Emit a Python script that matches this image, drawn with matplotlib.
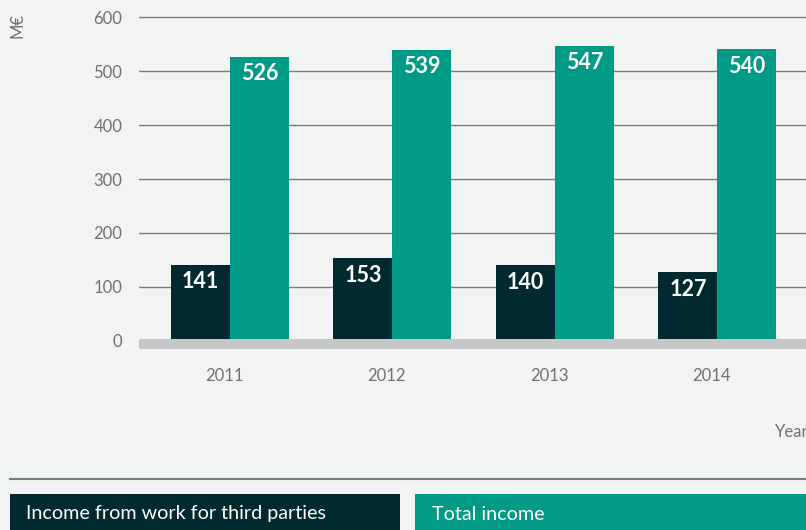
import numpy as np
import matplotlib.pyplot as plt
from matplotlib.patches import Rectangle

plt.rcParams['font.family'] = ['Lato', 'DejaVu Sans']

# Income per year, M€
years = ['2011', '2012', '2013', '2014']
third_parties = [141, 153, 140, 127]
total_income = [526, 539, 547, 540]

bg = '#f2f4f3'
dark = '#002a30'
teal = '#009a86'
grey_txt = '#707070'

fig = plt.figure(figsize=(8.06, 5.30), dpi=100, facecolor=bg)
W, H = 806, 530

# axes placed in pixel terms: left 139, right edge, top 10, bottom 352
ax = fig.add_axes([139 / W, (H - 352) / H, (W - 139) / W, 342 / H])
ax.set_facecolor(bg)

x = np.arange(len(years))
w = 0.363
ax.bar(x - w / 2, third_parties, w, color=dark, zorder=2)
ax.bar(x + w / 2, total_income, w, color=teal, zorder=2)

for xi, v in zip(x, third_parties):
    ax.text(xi - w / 2, v - 31, str(v), ha='center', va='center',
            color='white', fontsize=15.5, fontweight='bold', zorder=4)
for xi, v in zip(x, total_income):
    ax.text(xi + w / 2, v - 31, str(v), ha='center', va='center',
            color='white', fontsize=15.5, fontweight='bold', zorder=4)

# baseline band
ax.axhspan(-15.5, 3.5, color='#c6c7c9', zorder=3, lw=0)

ax.set_xlim(-0.56, 3.545)
ax.set_ylim(-20.4, 613)
ax.set_yticks([0, 100, 200, 300, 400, 500, 600])
ax.yaxis.grid(True, color='#7a7a7a', lw=1, zorder=1)
ax.set_axisbelow(True)
ax.tick_params(axis='y', length=0, pad=12, labelsize=12, labelcolor=grey_txt)
ax.set_xticks(x - 0.035)
ax.set_xticklabels(years)
ax.tick_params(axis='x', length=0, pad=11.5, labelsize=12, labelcolor=grey_txt)
for s in ax.spines.values():
    s.set_visible(False)

fig.text(18 / W, 1 - 25 / H, 'M€', rotation=90, ha='center', va='center',
         fontsize=12, color=grey_txt)
# axis name runs off the right edge
fig.text(775 / W, 1 - 432 / H, 'Year', ha='left', va='center',
         fontsize=12, color=grey_txt)

# separator and legend boxes
fig.add_artist(plt.Line2D([10 / W, 1], [1 - 479 / H] * 2, color='#6f7f83',
                          lw=1.5, transform=fig.transFigure))
fig.add_artist(Rectangle((10 / W, 0), 390 / W, 36 / H, color=dark,
                         transform=fig.transFigure, lw=0))
fig.add_artist(Rectangle((415 / W, 0), (W - 415) / W, 36 / H, color=teal,
                         transform=fig.transFigure, lw=0))
fig.text(26 / W, 1 - 514 / H, 'Income from work for third parties',
         ha='left', va='center', fontsize=14.2, color='white')
fig.text(432 / W, 1 - 514 / H, 'Total income',
         ha='left', va='center', fontsize=14.2, color='white')

fig.savefig('out.png', dpi=100, facecolor=bg)
